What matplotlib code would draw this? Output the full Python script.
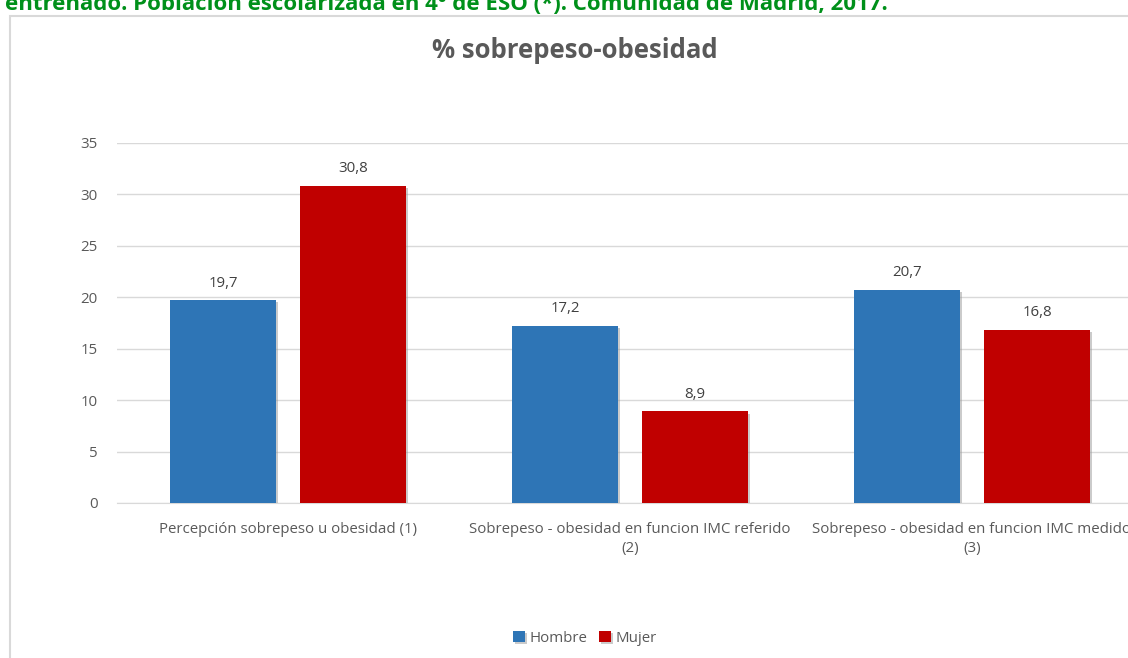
import numpy as np
import matplotlib
matplotlib.use("Agg")
import matplotlib.pyplot as plt
import matplotlib.patheffects as pe
from matplotlib.patches import Rectangle

categories = ["Percepción sobrepeso u obesidad (1)",
              "Sobrepeso - obesidad en funcion IMC referido\n(2)",
              "Sobrepeso - obesidad en funcion IMC medido\n(3)"]
hombre = [19.7, 17.2, 20.7]
mujer = [30.8, 8.9, 16.8]
series_names = ["Hombre", "Mujer"]
colors = ["#2e75b6", "#c00000"]

plt.rcParams['font.family'] = ['Open Sans', 'DejaVu Sans']

fig = plt.figure(figsize=(11.28, 6.58), dpi=100)

# chart frame (cut by the page on the right and bottom)
fig.patches.append(Rectangle((10 / 1128, -0.1), 1.2, 1 - 16 / 658 + 0.1,
                             transform=fig.transFigure, fill=False,
                             edgecolor="#d9d9d9", linewidth=1.5))

fig.text(5 / 1128, 1 - 10 / 658,
         "entrenado. Población escolarizada en 4º de ESO (*). Comunidad de Madrid, 2017.",
         color="#00901a", fontsize=16, fontweight="bold", ha="left", va="baseline")

fig.text(575 / 1128, 1 - 50 / 658, "% sobrepeso-obesidad", color="#595959",
         fontsize=18.5, fontweight="bold", ha="center", va="center")

ax = fig.add_axes([117 / 1128, 1 - 503 / 658, 1026 / 1128, 360 / 658])

x = np.arange(len(categories))
w = 0.31
off = 0.19
fs = 10.8
shadow = [pe.SimplePatchShadow(offset=(1.5, -1.5), shadow_rgbFace="#999999", alpha=0.5), pe.Normal()]
b1 = ax.bar(x - off, hombre, w, color=colors[0], label=series_names[0], zorder=3)
b2 = ax.bar(x + off, mujer, w, color=colors[1], label=series_names[1], zorder=3)
for bars in (b1, b2):
    for b in bars:
        b.set_path_effects(shadow)
    ax.bar_label(bars, labels=[f"{v:.1f}".replace(".", ",") for v in bars.datavalues],
                 padding=7, fontsize=fs, color="#404040")

ax.set_xlim(-0.5, 2.5)
ax.set_ylim(0, 35)
ax.set_yticks(range(0, 36, 5))
ax.set_xticks(x)
ax.set_xticklabels(categories, fontsize=fs, color="#595959", linespacing=1.35)
ax.tick_params(axis="y", labelsize=fs, labelcolor="#595959", length=0, pad=14)
ax.tick_params(axis="x", length=0, pad=14)
ax.grid(axis="y", color="#d9d9d9", linewidth=1, zorder=0)
for s in ["top", "right", "left"]:
    ax.spines[s].set_visible(False)
ax.spines["bottom"].set_color("#d9d9d9")

ax.legend(loc="center", bbox_to_anchor=(585 / 1128, 1 - 638 / 658),
          bbox_transform=fig.transFigure, ncol=2, frameon=False,
          fontsize=fs, labelcolor="#595959", handlelength=0.8, handleheight=0.8,
          handletextpad=0.3, columnspacing=0.8)

fig.savefig("out.png", dpi=100)
